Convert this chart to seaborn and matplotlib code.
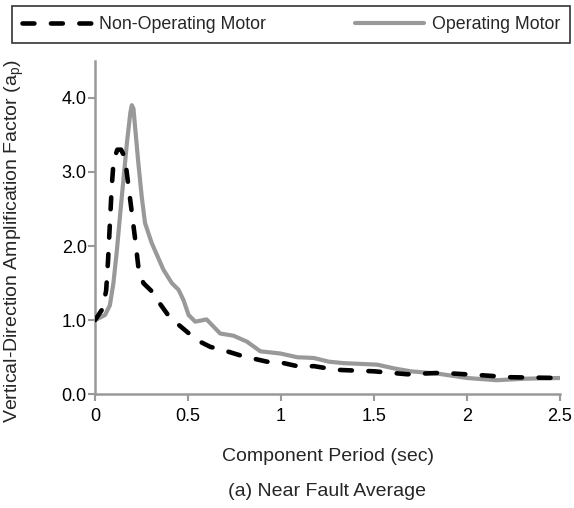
import numpy as np
import pandas as pd
import seaborn as sns
import matplotlib
matplotlib.use("Agg")
import matplotlib.pyplot as plt
from matplotlib.lines import Line2D

# Data
op_x = [0, 0.054, 0.08, 0.099, 0.118, 0.136, 0.153, 0.172, 0.19, 0.198, 0.207, 0.215, 0.233,
        0.251, 0.269, 0.305, 0.368, 0.413, 0.449, 0.476, 0.503, 0.539, 0.60, 0.673, 0.745,
        0.817, 0.889, 0.997, 1.087, 1.176, 1.257, 1.338, 1.517, 1.607, 1.697, 1.84, 2.0,
        2.16, 2.31, 2.5]
op_y = [1.0, 1.07, 1.2, 1.5, 1.95, 2.45, 2.9, 3.4, 3.8, 3.9, 3.85, 3.62, 3.12,
        2.67, 2.31, 2.04, 1.68, 1.50, 1.41, 1.27, 1.07, 0.98, 1.01, 0.82, 0.79,
        0.71, 0.58, 0.55, 0.50, 0.49, 0.44, 0.42, 0.40, 0.35, 0.31, 0.28, 0.22,
        0.19, 0.21, 0.22]

non_x = [0, 0.04, 0.06, 0.07, 0.08, 0.09, 0.10, 0.12, 0.14, 0.16, 0.18, 0.198, 0.216,
         0.233, 0.26, 0.305, 0.341, 0.404, 0.458, 0.548, 0.62, 0.71, 0.8, 0.925, 0.997,
         1.105, 1.176, 1.30, 1.5, 1.68, 1.86, 2.06, 2.24, 2.5]
non_y = [1.0, 1.15, 1.4, 1.8, 2.3, 2.8, 3.15, 3.3, 3.3, 3.2, 2.81, 2.45, 2.09,
         1.72, 1.50, 1.39, 1.25, 1.03, 0.92, 0.73, 0.64, 0.58, 0.51, 0.44, 0.43,
         0.37, 0.38, 0.33, 0.31, 0.27, 0.29, 0.26, 0.23, 0.22]

series_names = ["Non-Operating Motor", "Operating Motor"]
x_ticks = [0, 0.5, 1, 1.5, 2, 2.5]
x_tick_labels = ["0", "0.5", "1", "1.5", "2", "2.5"]
y_ticks = [0, 1, 2, 3, 4]
y_tick_labels = ["0.0", "1.0", "2.0", "3.0", "4.0"]

df = pd.concat([
    pd.DataFrame({"x": non_x, "y": non_y, "Series": series_names[0]}),
    pd.DataFrame({"x": op_x, "y": op_y, "Series": series_names[1]}),
], ignore_index=True)

sns.set_style("white")
plt.rcParams["font.family"] = ["Liberation Sans", "DejaVu Sans"]
plt.rcParams["mathtext.fontset"] = "custom"
plt.rcParams["mathtext.rm"] = "Liberation Sans"
plt.rcParams["mathtext.it"] = "Liberation Sans:italic"

fig = plt.figure(figsize=(5.74, 5.08), dpi=100)
ax = fig.add_axes([95/574, 1-394.3/508, (560-95)/574, (394.3-60.7)/508])

gray = "#999999"
dash = (2.6, 3.6)
sns.lineplot(data=df, x="x", y="y", hue="Series", style="Series",
             palette={series_names[0]: "black", series_names[1]: gray},
             dashes={series_names[0]: dash, series_names[1]: ""},
             estimator=None, sort=False, ax=ax, legend=True)

lines = ax.get_lines()
non_line, op_line = lines[0], lines[1]
non_line.set_linewidth(3.3)
non_line.set_dash_capstyle("round")
non_line.set_dash_joinstyle("round")
op_line.set_linewidth(3.0)
op_line.set_solid_joinstyle("round")
op_line.set_solid_capstyle("round")
non_line.set_zorder(3)
op_line.set_zorder(2)

ax.get_legend().remove()

ax.set_xlim(0, 2.5)
ax.set_ylim(0, 4.5)
ax.set_xticks(x_ticks)
ax.set_xticklabels(x_tick_labels)
ax.set_yticks(y_ticks)
ax.set_yticklabels(y_tick_labels)
ax.tick_params(axis="both", labelsize=13, colors=gray, labelcolor="black",
               length=5, width=1.5, direction="out", bottom=True, left=True)
ax.tick_params(axis="x", pad=5)
ax.tick_params(axis="y", pad=1)
for s in ["top", "right"]:
    ax.spines[s].set_visible(False)
for s in ["left", "bottom"]:
    ax.spines[s].set_color(gray)
    ax.spines[s].set_linewidth(1.8)

ax.set_xlabel("Component Period (sec)", fontsize=14)
ax.xaxis.set_label_coords(0.5, -(456 + 9 - 394.3) / 333.6)
ax.xaxis.label.set_va("bottom")
ax.set_ylabel("Vertical-Direction Amplification Factor (a$_\\mathrm{p}$)", fontsize=14)
ax.yaxis.set_label_coords(-0.148, 0.46)

fig.text(327/574, 1-492/508, "(a) Near Fault Average", ha="center", va="center", fontsize=14)

h1 = Line2D([], [], color="black", lw=3.3, dashes=dash, dash_capstyle="round")
h2 = Line2D([], [], color=gray, lw=3.0)
leg = fig.legend([h1, h2], series_names, loc="upper left",
                 bbox_to_anchor=(12/574, 1-7/508, (570-12)/574, 0.001),
                 mode="expand", ncol=2, frameon=True, fancybox=False,
                 edgecolor="black", fontsize=12.8, handlelength=3.9,
                 handletextpad=0.45, borderaxespad=0, borderpad=0.55,
                 columnspacing=2.0)
leg.get_frame().set_linewidth(1.2)

fig.savefig("out.png", dpi=100)
